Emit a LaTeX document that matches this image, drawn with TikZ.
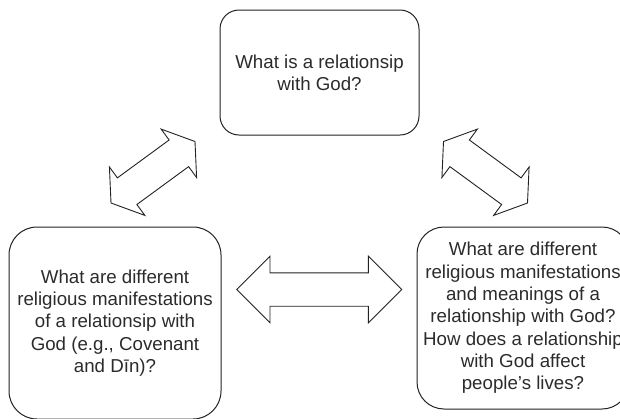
\documentclass[tikz,border=0pt]{standalone}
\usepackage{fontspec}
\setmainfont{Liberation Sans}
\usetikzlibrary{calc}
\usetikzlibrary{positioning}
\definecolor{ink}{HTML}{222222}
\definecolor{txt}{HTML}{2B2B2B}

% outline of a double block arrow between two tips
% #1,#2 tips, #3 head length, #4 head half width, #5 shaft half width
\newcommand{\blockarrow}[5]{%
  \draw[blockarrow] (#1)
    -- ($($(#1)!#3!(#2)$)!#4!90:(#2)$)
    -- ($($(#1)!#3!(#2)$)!#5!90:(#2)$)
    -- ($($(#2)!#3!(#1)$)!#5!-90:(#1)$)
    -- ($($(#2)!#3!(#1)$)!#4!-90:(#1)$)
    -- (#2)
    -- ($($(#2)!#3!(#1)$)!#4!90:(#1)$)
    -- ($($(#2)!#3!(#1)$)!#5!90:(#1)$)
    -- ($($(#1)!#3!(#2)$)!#5!-90:(#2)$)
    -- ($($(#1)!#3!(#2)$)!#4!-90:(#2)$)
    -- cycle;}

\tikzset{
  qbox/.style={draw=ink, line width=1pt, align=center, text=txt,
    font=\fontsize{18.7}{22.3}\selectfont, inner sep=0pt},
  blockarrow/.style={draw=ink, fill=white, line width=0.9pt, line join=miter}
}

\begin{document}
\begin{tikzpicture}[x=1pt,y=-1pt]
	\useasboundingbox (0,0) rectangle (620,418);
	\clip (0,0) rectangle (620,418);

	% question boxes
	\node[qbox,rounded corners=19pt,minimum width=199pt,minimum height=125pt] (relq) at (319.5,72.5)
		{What is a relationsip\\with God?};
	\node[qbox,rounded corners=28pt,minimum width=212pt,minimum height=192pt] (manif) at (115,323)
		{What are different\\religious manifestations\\of a relationsip with\\God (e.g., Covenant\\and D\={\i}n)?};
	\node[qbox,rounded corners=27pt,minimum width=212pt,minimum height=182pt] (meaning) at (523,318)
		{What are different\\religious manifestations\\and meanings of a\\relationship with God?\\How does a relationship\\with God affect\\people’s lives?};

	% arrow tips
	\coordinate (dl1) at (111,203);
	\coordinate (dl2) at (195,141.5);
	\coordinate (dr1) at (443.5,141.5);
	\coordinate (dr2) at (527.5,203);
	\coordinate (hl) at (236.7,289.5);
	\coordinate (hr) at (401.7,289.5);

	% double arrows
	\blockarrow{dl1}{dl2}{20pt}{30pt}{16.5pt}
	\blockarrow{dr1}{dr2}{20pt}{30pt}{16.5pt}
	\blockarrow{hl}{hr}{33.3pt}{33.3pt}{16.7pt}
\end{tikzpicture}
\end{document}
